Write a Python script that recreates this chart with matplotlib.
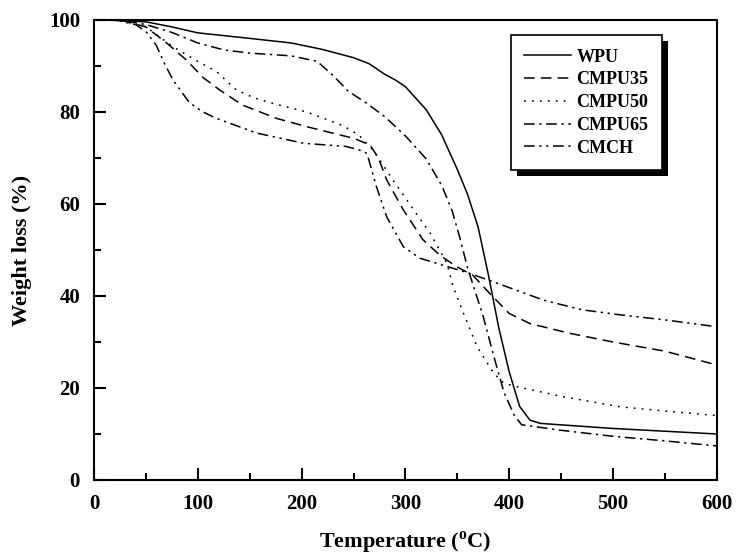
# TGA curves of WPU and the CMPU/CMCH samples

import matplotlib
matplotlib.use("Agg")
import matplotlib.pyplot as plt
import matplotlib.ticker as mtick
from matplotlib.patches import Rectangle
from matplotlib.transforms import IdentityTransform

plt.rcParams["font.family"] = ["Liberation Serif", "DejaVu Serif"]
plt.rcParams["font.weight"] = "bold"
plt.rcParams["mathtext.fontset"] = "custom"
plt.rcParams["mathtext.rm"] = "Liberation Serif:bold"
plt.rcParams["mathtext.bf"] = "Liberation Serif:bold"

wpu_t = [10, 50, 75, 100, 150, 190, 220, 250, 265, 280, 290, 300, 310, 320, 335, 350,
         360, 370, 380, 390, 400, 410, 420, 430, 500, 600]
wpu_w = [100, 99.6, 98.5, 97.2, 96, 95, 93.6, 91.8, 90.5, 88.2, 87, 85.5, 83, 80.5, 75, 67.5,
         62, 55, 44.5, 33, 23.5, 16, 13, 12.3, 11.2, 10]

cmpu35_t = [10, 25, 50, 70, 89, 105, 121, 143, 176, 205, 237, 250, 266, 274, 282, 298,
            317, 333, 349, 365, 381, 400, 420, 458, 500, 550, 600]
cmpu35_w = [100, 100, 98.5, 95, 91.3, 87.5, 84.8, 81.5, 78.6, 76.8, 75, 74.3, 72.8, 70, 65.2, 58.7,
            52.2, 48.9, 46.4, 44.5, 40.6, 36.2, 34, 31.9, 30, 28, 25]

cmpu50_t = [10, 25, 50, 76, 100, 118, 137, 155, 175, 205, 240, 255, 269, 288, 308, 324,
            340, 346, 356, 369, 385, 395, 407, 452, 507, 550, 600]
cmpu50_w = [100, 100, 98.5, 94.2, 91, 88.8, 84.8, 83, 81.7, 80, 77, 75, 71.7, 65.2, 58.7, 53.6,
            47.1, 42, 36.2, 29, 23.2, 21, 20.3, 18.1, 15.9, 15, 14]

cmpu65_t = [10, 25, 50, 75, 100, 125, 150, 190, 215, 230, 245, 262, 280, 300, 320, 335,
            345, 352, 360, 375, 385, 395, 405, 412, 450, 500, 550, 600]
cmpu65_w = [100, 100, 99, 97.3, 95, 93.5, 92.8, 92.2, 91, 88, 84.5, 82, 79, 74.8, 69.8, 64,
            58.5, 53, 46, 35.5, 27, 19, 14, 12, 10.8, 9.5, 8.5, 7.4]

cmch_t = [10, 20, 40, 50, 60, 68, 76, 92, 105, 118, 157, 202, 243, 256, 263, 272, 282, 298,
          314, 336, 362, 388, 433, 470, 507, 550, 600]
cmch_w = [100, 100, 99, 97.5, 94.5, 90.5, 87, 82, 80, 78.6, 75.4, 73.2, 72.5, 71.7, 71, 63.8, 57.2, 50.7,
          48.2, 46.7, 44.9, 42.8, 39.1, 37, 35.9, 34.8, 33.3]

labels = ["WPU", "CMPU35", "CMPU50", "CMPU65", "CMCH"]

fig = plt.figure(figsize=(7.36, 5.58), dpi=100)
ax = fig.add_axes([0.1277, 0.1398, 0.974 - 0.1277, 0.9642 - 0.1398])

lw = 1.1
ax.plot(wpu_t, wpu_w, color="black", lw=lw, linestyle="-", label=labels[0])
ax.plot(cmpu35_t, cmpu35_w, color="black", lw=lw, linestyle=(0, (7, 4)), label=labels[1])
ax.plot(cmpu50_t, cmpu50_w, color="black", lw=lw, linestyle=(0, (1.2, 4)), label=labels[2])
ax.plot(cmpu65_t, cmpu65_w, color="black", lw=lw, linestyle=(0, (7, 3, 1.5, 3)), label=labels[3])
ax.plot(cmch_t, cmch_w, color="black", lw=lw, linestyle=(0, (7, 3, 1.5, 3, 1.5, 3)), label=labels[4])

ax.set_xlim(0, 600)
ax.set_ylim(0, 100)
ax.xaxis.set_major_locator(mtick.MultipleLocator(100))
ax.xaxis.set_minor_locator(mtick.MultipleLocator(50))
ax.yaxis.set_major_locator(mtick.MultipleLocator(20))
ax.yaxis.set_minor_locator(mtick.MultipleLocator(10))
ax.tick_params(which="both", direction="in", top=False, right=False, width=1.5)
ax.tick_params(which="major", length=8.5, labelsize=15, pad=10)
ax.tick_params(which="minor", length=5)
for s in ax.spines.values():
    s.set_linewidth(1.5)

ax.set_xlabel(r"Temperature ($^{\rm o}$C)", fontsize=16, fontweight="bold", labelpad=11)
ax.set_ylabel("Weight loss (%)", fontsize=16, fontweight="bold", labelpad=12)

leg = ax.legend(loc="upper right", bbox_to_anchor=(662 / 736, 1 - 35 / 558),
                bbox_transform=fig.transFigure, borderaxespad=0, fontsize=13,
                handlelength=2.6, handletextpad=0.3, labelspacing=0.32, borderpad=0.75,
                fancybox=False, framealpha=1, edgecolor="black")
leg.get_frame().set_linewidth(1.2)
leg.set_zorder(6)

# black drop shadow under the legend box
fig.canvas.draw()
bb = leg.get_window_extent()
shadow = Rectangle((bb.x0 + 6, bb.y0 - 6), bb.width, bb.height, transform=IdentityTransform(),
                   facecolor="black", edgecolor="none", zorder=5.5, clip_on=False)
ax.add_patch(shadow)

fig.savefig("out.png", dpi=100)
plt.close(fig)
